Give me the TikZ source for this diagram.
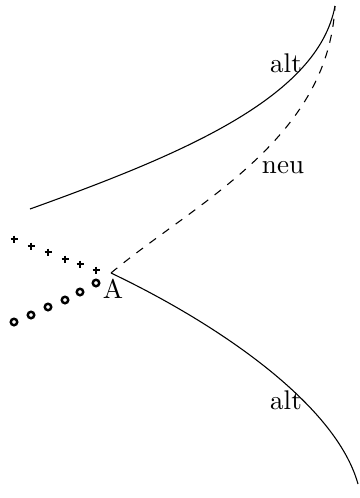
\documentclass[tikz,border=0pt]{standalone}
\begin{document}
\begin{tikzpicture}[x=0.37pt, y=-0.37pt, every node/.style={inner sep=0pt}]
  \useasboundingbox (0,0) rectangle (360,498);
  \coordinate (A) at (111,273);
  \coordinate (spitze) at (335,6);
  \coordinate (obenlinks) at (30,209);
  \coordinate (untenrechts) at (358,484);
  % alte Kurven
  \draw (obenlinks) .. controls (180,155) and (318,98) .. (spitze);
  \draw (A) .. controls (220,325) and (336,405) .. (untenrechts);
  % neue Kurve
  \draw[dashed] (A) .. controls (195,203) and (328,140) .. (spitze);
  % Messpunkte
  \foreach \x/\y in {14/239,31/246,48/252,65/259,80/264,96/270} {
    \draw[line width=0.9pt] (\x,\y) +(-3.5,0) -- +(3.5,0) +(0,-3.5) -- +(0,3.5);
  }
  \foreach \x/\y in {14/322,31/315,48/307,65/300,80/292,96/283} {
    \draw[line width=0.9pt] (\x,\y) circle (1.2pt);
  }
  \node (lblA) at (113,289) {A};
  \node (altoben) at (286,63) {alt};
  \node (neu) at (283,168) {neu};
  \node (altunten) at (286,400) {alt};
\end{tikzpicture}
\end{document}
